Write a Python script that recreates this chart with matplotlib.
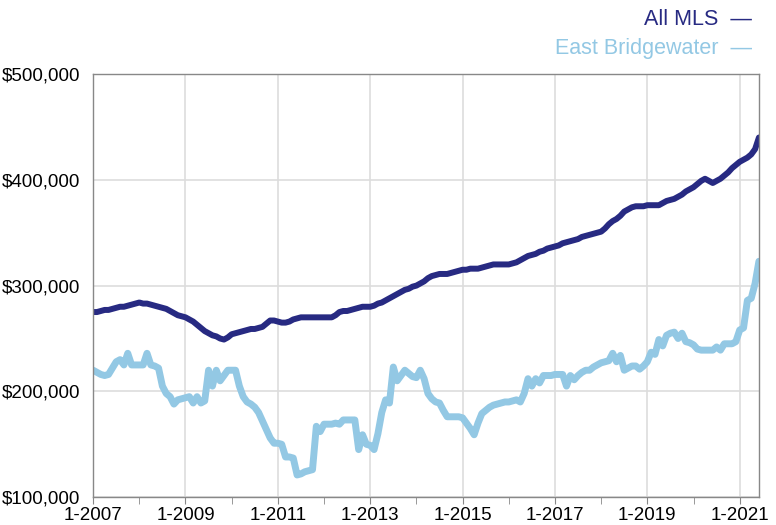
import numpy as np
import matplotlib.pyplot as plt
from matplotlib.ticker import FuncFormatter, MultipleLocator, FixedLocator

plt.rcParams['font.family'] = ['Liberation Sans', 'DejaVu Sans']

# median sale price, monthly from 1-2007 to 6-2021 (in $1000s)
all_mls = [
    275, 275, 276, 277, 277, 278, 279, 280, 280, 281, 282, 283,  # 2007
    284, 283, 283, 282, 281, 280, 279, 278, 276, 274, 272, 271,  # 2008
    270, 268, 266, 263, 260, 257, 255, 253, 252, 250, 249, 251,  # 2009
    254, 255, 256, 257, 258, 259, 259, 260, 261, 264, 267, 267,  # 2010
    266, 265, 265, 266, 268, 269, 270, 270, 270, 270, 270, 270,  # 2011
    270, 270, 270, 272, 275, 276, 276, 277, 278, 279, 280, 280,  # 2012
    280, 281, 283, 284, 286, 288, 290, 292, 294, 296, 297, 299,  # 2013
    300, 302, 304, 307, 309, 310, 311, 311, 311, 312, 313, 314,  # 2014
    315, 315, 316, 316, 316, 317, 318, 319, 320, 320, 320, 320,  # 2015
    320, 321, 322, 324, 326, 328, 329, 330, 332, 333, 335, 336,  # 2016
    337, 338, 340, 341, 342, 343, 344, 346, 347, 348, 349, 350,  # 2017
    351, 354, 358, 361, 363, 366, 370, 372, 374, 375, 375, 375,  # 2018
    376, 376, 376, 376, 378, 380, 381, 382, 384, 386, 389, 391,  # 2019
    393, 396, 399, 401, 399, 397, 399, 401, 404, 407, 411, 414,  # 2020
    417, 419, 421, 424, 429, 440,                                # 2021
]

east_bridgewater = [
    220, 218, 216, 215, 216, 222, 228, 230, 225, 236, 225, 225,  # 2007
    225, 225, 236, 225, 224, 222, 205, 198, 195, 188, 192, 193,  # 2008
    194, 195, 189, 195, 189, 191, 220, 205, 220, 210, 215, 220,  # 2009
    220, 220, 205, 195, 190, 188, 185, 180, 172, 164, 156, 151,  # 2010
    151, 150, 138, 138, 137, 121, 122, 124, 125, 126, 167, 162,  # 2011
    169, 169, 169, 170, 169, 173, 173, 173, 173, 145, 159, 150,  # 2012
    149, 145, 160, 180, 192, 189, 223, 210, 215, 220, 217, 214,  # 2013
    213, 220, 212, 198, 193, 190, 189, 182, 176, 176, 176, 176,  # 2014
    175, 170, 165, 159, 170, 179, 182, 185, 187, 188, 189, 190,  # 2015
    190, 191, 192, 190, 198, 212, 205, 212, 208, 215, 215, 215,  # 2016
    216, 216, 216, 205, 215, 211, 215, 218, 220, 220, 223, 225,  # 2017
    227, 228, 229, 236, 228, 234, 220, 222, 224, 224, 221, 224,  # 2018
    228, 237, 235, 249, 243, 253, 255, 256, 250, 255, 247, 246,  # 2019
    244, 240, 239, 239, 239, 239, 242, 239, 245, 245, 245, 247,  # 2020
    258, 260, 286, 288, 302, 323,                                # 2021
]

series_names = ['All MLS', 'East Bridgewater']
colors = ['#272a82', '#93c8e4']
tick_years = [2007, 2009, 2011, 2013, 2015, 2017, 2019, 2021]

years = 2007 + np.arange(len(all_mls)) / 12.0

fig = plt.figure(figsize=(7.76, 5.25), dpi=100)
ax = fig.add_axes([0.12, 0.053, 0.858, 0.806])

ax.plot(years, np.array(east_bridgewater) * 1000, color=colors[1], lw=5.0,
        solid_joinstyle='round', solid_capstyle='round')
ax.plot(years, np.array(all_mls) * 1000, color=colors[0], lw=4.3,
        solid_joinstyle='round', solid_capstyle='round')

ax.set_xlim(2007, years[-1])
ax.set_ylim(100000, 500000)

ax.xaxis.set_major_locator(FixedLocator(tick_years))
ax.xaxis.set_minor_locator(MultipleLocator(1))
ax.xaxis.set_major_formatter(FuncFormatter(lambda v, p: '1-%d' % round(v)))
ax.yaxis.set_major_locator(MultipleLocator(100000))
ax.yaxis.set_major_formatter(FuncFormatter(lambda v, p: '${:,.0f}'.format(v)))

ax.grid(True, which='major', color='#dddddd', lw=1.2)
ax.set_axisbelow(True)
for s in ax.spines.values():
    s.set_color('#888888')
    s.set_linewidth(1.0)

ax.tick_params(axis='x', which='both', length=5, color='#888888',
               labelsize=13.5, pad=2)
ax.tick_params(axis='y', length=0, labelsize=13.5, pad=9)

# legend as coloured text at the top right
fig.text(0.969, 0.963, series_names[0] + '  \u2014', color=colors[0],
         fontsize=15.5, ha='right', va='center')
fig.text(0.969, 0.907, series_names[1] + '  \u2014', color=colors[1],
         fontsize=15.5, ha='right', va='center')

fig.savefig('out.png', dpi=100)
